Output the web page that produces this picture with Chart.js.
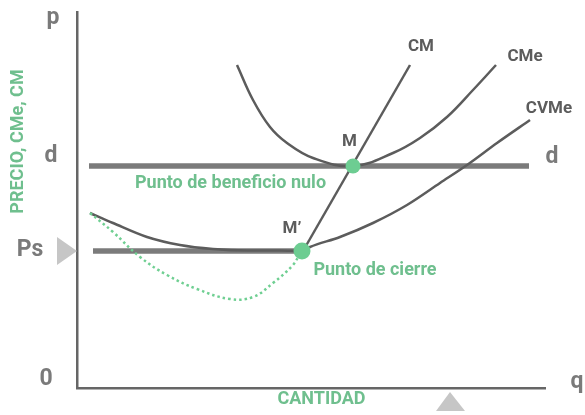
<!DOCTYPE html>
<html>
<head>
<meta charset="utf-8">
<script src="https://cdn.jsdelivr.net/npm/chart.js@4.4.0/dist/chart.umd.min.js"></script>
<style>
    html, body { margin: 0; padding: 0; background: #ffffff; }
</style>
</head>
<body>
<canvas id="costChart" width="585" height="415"></canvas>
<script>
// =========================
// Datos (unidades del diagrama: q horizontal, p vertical)
// =========================
const priceD = 222;      // nivel d (beneficio nulo)
const priceS = 137;      // nivel Ps (cierre)

const lineDX = [12, 452];
const lineSX = [16, 225];

// CM (coste marginal)
const cmX = [226, 333];
const cmY = [137, 323];

// CMe (coste medio)
const cmeX = [160, 176, 193, 210, 236, 276, 316, 343, 370, 396, 419];
const cmeY = [323, 288, 261, 245, 230, 222, 235, 250, 271, 298, 323];

// CVMe (coste variable medio)
const cvmeX = [13, 36, 70, 103, 136, 170, 203, 225, 233, 263, 296, 330, 363, 390, 420, 453];
const cvmeY = [175, 165, 151, 143, 139, 137.5, 137.5, 137, 141, 151, 165, 183, 205, 223, 245, 268];

// curva verde punteada
const dotX = [13, 36, 63, 90, 120, 153, 176, 196, 216, 223];
const dotY = [175, 156, 131, 113, 99, 89, 91, 105, 123, 135];

// puntos M y M'
const pointNames = ['M', 'M’'];
const pointX = [276, 225];
const pointY = [222, 137];

const curveNames = ['CM', 'CMe', 'CVMe'];
const axisNames = ['0', 'Ps', 'd', 'p', 'q'];

function toXY(xs, ys) {
    return xs.map(function (x, i) { return { x: x, y: ys[i] }; });
}

const gray = '#5c5c5c';
const green = '#6fbf8e';

// =========================
// Textos y triángulos
// =========================
const labelPlugin = {
    id: 'labels',
    afterDatasetsDraw: function (chart) {
        const ctx = chart.ctx;
        const sx = chart.scales.x;
        const sy = chart.scales.y;

        function txt(t, x, y, font, color, rot) {
            ctx.save();
            ctx.translate(sx.getPixelForValue(x), sy.getPixelForValue(y));
            if (rot) ctx.rotate(rot);
            ctx.font = font;
            ctx.fillStyle = color;
            ctx.textAlign = 'center';
            ctx.textBaseline = 'middle';
            ctx.fillText(t, 0, 0);
            ctx.restore();
        }

        function tri(pts) {
            ctx.save();
            ctx.fillStyle = '#c6c6c6';
            ctx.beginPath();
            pts.forEach(function (p, i) {
                const px = sx.getPixelForValue(p[0]);
                const py = sy.getPixelForValue(p[1]);
                if (i === 0) ctx.moveTo(px, py); else ctx.lineTo(px, py);
            });
            ctx.closePath();
            ctx.fill();
            ctx.restore();
        }

        const big = 'bold 23px Roboto';
        const mid = 'bold 17px Roboto';
        const small = 'bold 18px Roboto';
        const axisGray = '#7a7a7a';

        // ejes
        txt(axisNames[0], -31, 9, big, axisGray);
        txt(axisNames[1], -47, 138, big, axisGray);
        txt(axisNames[2], -26, 232, big, axisGray);
        txt(axisNames[3], -24, 370, big, axisGray);
        txt(axisNames[4], 500, 6, big, axisGray);
        txt(axisNames[2], 475, 231, big, axisGray);

        // curvas
        txt(curveNames[0], 344, 341, mid, gray);
        txt(curveNames[1], 448, 331, mid, gray);
        txt(curveNames[2], 472, 279, mid, gray);

        // puntos
        txt(pointNames[0], 272.5, 246, mid, gray);
        txt(pointNames[1], 215, 159.5, mid, gray);

        // textos verdes
        txt('Punto de beneficio nulo', 153.5, 204.5, small, green);
        txt('Punto de cierre', 298, 118, small, green);
        txt('CANTIDAD', 244.5, -11, small, green);
        txt('PRECIO, CMe, CM', -59, 246.5, small, green, -Math.PI / 2);

        // triángulos
        tri([[-20, 151], [0, 137], [-20, 123]]);
        tri([[359, -23], [373, -4], [388, -23]]);
    }
};

// =========================
// Gráfico
// =========================
const ctx = document.getElementById('costChart').getContext('2d');

new Chart(ctx, {
    type: 'line',
    data: {
        datasets: [
            {
                label: 'Puntos',
                data: toXY(pointX, pointY),
                showLine: false,
                pointRadius: [7.5, 8.5],
                pointBackgroundColor: '#6dcd92',
                pointBorderWidth: 0,
                order: 0
            },
            {
                label: 'CM',
                data: toXY(cmX, cmY),
                borderColor: gray,
                borderWidth: 2.5,
                pointRadius: 0,
                order: 2
            },
            {
                label: 'CMe',
                data: toXY(cmeX, cmeY),
                borderColor: gray,
                borderWidth: 2.5,
                pointRadius: 0,
                tension: 0.4,
                order: 2
            },
            {
                label: 'CVMe',
                data: toXY(cvmeX, cvmeY),
                borderColor: gray,
                borderWidth: 2.5,
                pointRadius: 0,
                cubicInterpolationMode: 'monotone',
                order: 2
            },
            {
                label: 'Punteada',
                data: toXY(dotX, dotY),
                borderColor: '#6fcf92',
                borderWidth: 2.5,
                borderDash: [2.5, 3],
                pointRadius: 0,
                tension: 0.4,
                order: 1
            },
            {
                label: 'd',
                data: toXY(lineDX, [priceD, priceD]),
                borderColor: '#7b7b7b',
                borderWidth: 5.5,
                pointRadius: 0,
                order: 3
            },
            {
                label: 'Ps',
                data: toXY(lineSX, [priceS, priceS]),
                borderColor: '#7b7b7b',
                borderWidth: 5.5,
                pointRadius: 0,
                order: 3
            }
        ]
    },
    options: {
        responsive: false,
        animation: false,
        layout: {
            padding: { left: 69, right: 40, top: 12, bottom: 19 }
        },
        plugins: {
            legend: { display: false },
            tooltip: { enabled: false }
        },
        scales: {
            x: {
                type: 'linear',
                min: 0,
                max: 468,
                grid: { display: false },
                ticks: { display: false },
                border: { display: true, color: '#666666', width: 2.5 }
            },
            y: {
                type: 'linear',
                min: 0,
                max: 376,
                grid: { display: false },
                ticks: { display: false },
                border: { display: true, color: '#666666', width: 2.5 }
            }
        }
    },
    plugins: [labelPlugin]
});
</script>
</body>
</html>
